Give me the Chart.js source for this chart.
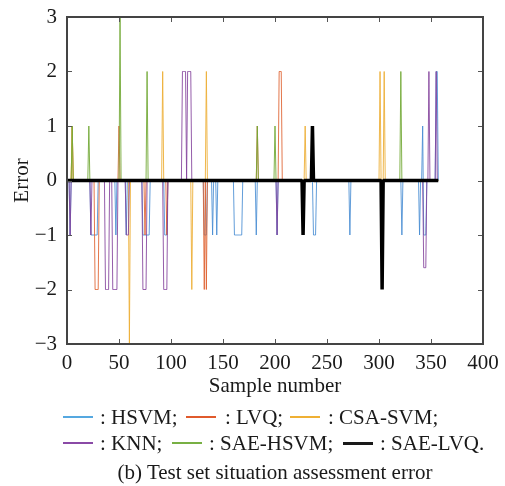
<!DOCTYPE html>
<html>
<head>
<meta charset="utf-8">
<script src="https://cdn.jsdelivr.net/npm/chart.js@4.4.1/dist/chart.umd.min.js"></script>
<style>
  html, body { margin: 0; padding: 0; background: #ffffff; }
  #wrap { position: relative; width: 505px; height: 486px; overflow: hidden; }
  #chart { position: absolute; left: 0; top: 0; }
  .lg-line { position: absolute; height: 2px; }
  .lg-text, .caption {
    position: absolute; font-family: "Liberation Serif", "Times New Roman", serif;
    font-size: 21px; line-height: 24px; color: #1a1a1a; white-space: nowrap;
  }
  .caption { left: 0; width: 550px; text-align: center; }
</style>
</head>
<body>
<div id="wrap">
  <canvas id="chart" width="505" height="486"></canvas>
  <div id="legend"></div>
  <div class="caption" style="top:460px;">(b) Test set situation assessment error</div>
</div>
<script>
// ---- data (sample number, error); all other samples have error 0 ----
const sampleCount = 358;              // samples 0 .. 357
const xTicks = [0, 50, 100, 150, 200, 250, 300, 350, 400];
const yTicks = [-3, -2, -1, 0, 1, 2, 3];
const seriesNames = ['HSVM', 'LVQ', 'CSA-SVM', 'KNN', 'SAE-HSVM', 'SAE-LVQ'];

const hsvmErrors = [[3,-1],[23,-1],[24,-1],[25,-1],[26,-1],[27,-1],[28,-1],[29,-1],[47,-1],[57,-1],
  [73,-1],[74,-1],[75,-1],[76,-1],[77,-1],[78,-1],[79,-1],[94,-1],[95,-1],[96,-1],
  [132,-1],[133,-1],[134,-1],[140,-1],[144,-1],
  [161,-1],[162,-1],[163,-1],[164,-1],[165,-1],[166,-1],[167,-1],[168,-1],
  [182,-1],[202,-1],[237,-1],[238,-1],[239,-1],[272,-1],[322,-1],[339,-1],
  [342,1],[343,-1],[344,-1],[345,-1],[355,2],[356,2]];
const lvqErrors = [[5,1],[27,-2],[28,-2],[29,-2],[30,-2],[50,1],[75,-1],[96,-1],[132,-2],[134,-2],
  [183,1],[204,2],[205,2],[206,2]];
const csaSvmErrors = [[5,1],[60,-3],[92,2],[120,-2],[134,2],[229,1],[301,2],[305,2]];
const knnErrors = [[3,-1],[23,-1],[37,-2],[38,-2],[39,-2],[40,-2],[44,-2],[45,-2],[46,-2],[47,-2],[48,-2],
  [57,-1],[58,-1],[59,-1],[73,-2],[74,-2],[75,-2],[76,-2],[93,-2],[94,-2],[95,-2],[96,-2],
  [111,2],[112,2],[113,2],[114,2],[116,2],[117,2],[118,2],[119,2],
  [202,-1],[227,-1],[343,-1.6],[344,-1.6],[345,-1.6],[348,2],[355,2]];
const saeHsvmErrors = [[5,1],[21,1],[51,3],[77,2],[183,1],[200,1],[321,2]];
const saeLvqErrors = [[227,-1],[236,1],[303,-2]];

// ---- styling ----
const plotColors = ['rgba(70,140,210,0.85)', 'rgba(222,95,45,0.85)', 'rgba(237,175,55,0.9)',
                    'rgba(130,65,155,0.85)', 'rgba(115,170,55,0.9)', '#000000'];
const legendColors = ['#55a8e0', '#e05a2c', '#efb034', '#8a4aa6', '#78b044', '#1a1a1a'];

function buildSeries(errors) {
  const m = new Map(errors.map(e => [e[0], e[1]]));
  const pts = [];
  for (let s = 0; s < sampleCount; s++) pts.push({ x: s, y: m.has(s) ? m.get(s) : 0 });
  return pts;
}
const allErrors = [hsvmErrors, lvqErrors, csaSvmErrors, knnErrors, saeHsvmErrors, saeLvqErrors];

const datasets = allErrors.map((errs, i) => ({
  label: seriesNames[i],
  data: buildSeries(errs),
  borderColor: plotColors[i],
  borderWidth: i === 5 ? 3.5 : 1,
  pointRadius: 0,
  tension: 0,
  borderJoinStyle: 'bevel',
  order: i === 5 ? 0 : 6 - i
}));

const FONT = { family: "'Liberation Serif', 'Times New Roman', serif", size: 21 };

const framePlugin = {
  id: 'frame',
  afterDatasetsDraw(chart) {
    const { ctx, chartArea: a, scales } = chart;
    ctx.save();
    ctx.strokeStyle = '#555555';
    ctx.lineWidth = 1;
    const L = 5;
    ctx.beginPath();
    xTicks.forEach(v => {
      const px = Math.round(scales.x.getPixelForValue(v)) + 0.5;
      ctx.moveTo(px, a.bottom); ctx.lineTo(px, a.bottom - L);
      ctx.moveTo(px, a.top); ctx.lineTo(px, a.top + L);
    });
    yTicks.forEach(v => {
      const py = Math.round(scales.y.getPixelForValue(v)) + 0.5;
      ctx.moveTo(a.left, py); ctx.lineTo(a.left + L, py);
      ctx.moveTo(a.right, py); ctx.lineTo(a.right - L, py);
    });
    ctx.stroke();
    ctx.strokeStyle = '#444444';
    ctx.lineWidth = 2;
    ctx.strokeRect(a.left, a.top, a.right - a.left, a.bottom - a.top);
    ctx.restore();
  }
};

new Chart(document.getElementById('chart'), {
  type: 'line',
  data: { datasets },
  options: {
    responsive: false,
    animation: false,
    devicePixelRatio: 1,
    layout: { padding: { left: 0, right: 22, top: 17, bottom: 87 } },
    plugins: { legend: { display: false }, tooltip: { enabled: false } },
    scales: {
      x: {
        type: 'linear', min: 0, max: 400,
        afterBuildTicks: s => { s.ticks = xTicks.map(v => ({ value: v })); },
        afterFit: s => { s.height = 55; s.paddingLeft = 0; s.paddingRight = 0; },
        grid: { display: false, drawTicks: false, tickLength: 0 },
        border: { display: false },
        ticks: { padding: 7, color: '#1a1a1a', font: FONT, maxRotation: 0, autoSkip: false },
        title: { display: true, text: 'Sample number', color: '#1a1a1a', font: FONT, padding: { top: 0, bottom: 0 } }
      },
      y: {
        type: 'linear', min: -3, max: 3,
        afterBuildTicks: s => { s.ticks = yTicks.map(v => ({ value: v })); },
        afterFit: s => { s.width = 67; s.paddingTop = 0; s.paddingBottom = 0; },
        grid: { display: false, drawTicks: false, tickLength: 0 },
        border: { display: false },
        ticks: { padding: 10, color: '#1a1a1a', font: FONT, autoSkip: false,
                 callback: v => (v < 0 ? '\u2212' + Math.abs(v) : String(v)) },
        title: { display: true, text: 'Error', color: '#1a1a1a', font: FONT, padding: { top: 10, bottom: 0 } }
      }
    }
  },
  plugins: [framePlugin]
});

// ---- HTML legend (two rows) ----
const legendLayout = [
  { i: 0, lineX: 63, textX: 100, row: 0 },
  { i: 1, lineX: 186, textX: 225, row: 0 },
  { i: 2, lineX: 290, textX: 328, row: 0 },
  { i: 3, lineX: 63, textX: 100, row: 1 },
  { i: 4, lineX: 172, textX: 209, row: 1 },
  { i: 5, lineX: 343, textX: 380, row: 1 }
];
const rowCenters = [417, 443];
const lg = document.getElementById('legend');
legendLayout.forEach(item => {
  const cy = rowCenters[item.row];
  const line = document.createElement('div');
  line.className = 'lg-line';
  const h = item.i === 5 ? 3 : 2;
  line.style.cssText = `left:${item.lineX}px;top:${cy - h / 2}px;width:30px;height:${h}px;background:${legendColors[item.i]};`;
  lg.appendChild(line);
  const t = document.createElement('div');
  t.className = 'lg-text';
  t.style.left = item.textX + 'px';
  t.style.top = (cy - 12) + 'px';
  t.textContent = ': ' + seriesNames[item.i] + (item.i === 5 ? '.' : ';');
  lg.appendChild(t);
});
</script>
</body>
</html>
